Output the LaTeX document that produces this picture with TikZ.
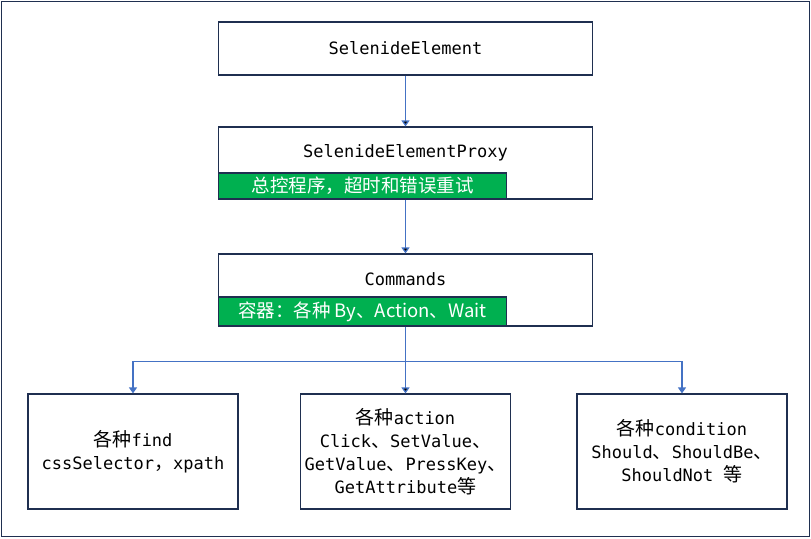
\documentclass[tikz,border=0pt]{standalone}
\usepackage{fontspec}
\setmonofont{DejaVu Sans Mono}
\newfontfamily\cjk{Noto Sans CJK SC}
\usetikzlibrary{arrows.meta}
\definecolor{edgeblue}{HTML}{1F2F50}
\definecolor{linkblue}{HTML}{4472C4}
\definecolor{tagfill}{HTML}{00B050}
\newcommand{\zh}[1]{{\cjk\fontsize{19}{23}\selectfont #1}}

\begin{document}
\begin{tikzpicture}[x=1pt,y=-1pt]
  \tikzstyle{box}=[draw=edgeblue,line width=1.2pt,inner sep=0pt,fill=white]
  \tikzstyle{head}=[font=\ttfamily\fontsize{17}{20}\selectfont]
  \tikzstyle{leaf}=[box,minimum width=210pt,minimum height=115pt,align=center,font=\ttfamily\fontsize{17}{23}\selectfont]
  \tikzstyle{tag}=[draw=edgeblue,line width=1.2pt,fill=tagfill,text=white,inner sep=0pt,minimum width=288pt,anchor=south west,font=\cjk\fontsize{18.5}{22}\selectfont]
  \tikzstyle{flow}=[draw=linkblue,line width=1.3pt,-{Triangle[length=6pt,width=8pt]}]
  \useasboundingbox (0,0) rectangle (811,538);
  \draw [edgeblue,line width=1.2pt] (1.5,1.5) rectangle (809.5,536.5);
  \node [box,head,minimum width=374pt,minimum height=53pt] (sel) at (405.5,48.5) {SelenideElement};
  \node [box,minimum width=374pt,minimum height=72pt] (proxy) at (405.5,163) {};
  \node [head] (proxytitle) at ([yshift=-26pt]proxy.north) {SelenideElementProxy};
  \node [tag,minimum height=26pt] (proxytag) at (proxy.south west) {总控程序，超时和错误重试};
  \node [box,minimum width=374pt,minimum height=72pt] (cmds) at (405.5,290) {};
  \node [head] (cmdstitle) at ([yshift=-26pt]cmds.north) {Commands};
  \node [tag,minimum height=29pt] (cmdstag) at (cmds.south west) {容器：各种 By、Action、Wait};
  \node [leaf] (find) at (133,451.5) {\zh{各种}find\\cssSelector\zh{，}xpath};
  \node [leaf] (act) at (405.5,451.5) {\zh{各种}action\\Click\zh{、}SetValue\zh{、}\\GetValue\zh{、}PressKey\zh{、}\\GetAttribute\zh{等}};
  \node [leaf] (cond) at (682,451.5) {\zh{各种}condition\\Should\zh{、}ShouldBe\zh{、}\\ShouldNot \zh{等}};
  \path [flow] (sel) edge (proxy) ;
  \path [flow] (proxy) edge (cmds) ;
  \path (cmds.south) ++(0,35) coordinate (fork) ;
  \path [flow] (cmds) edge (act) ;
  \draw [flow] (fork) -| (find.north) ;
  \draw [flow] (fork) -| (cond.north) ;
\end{tikzpicture}
\end{document}
